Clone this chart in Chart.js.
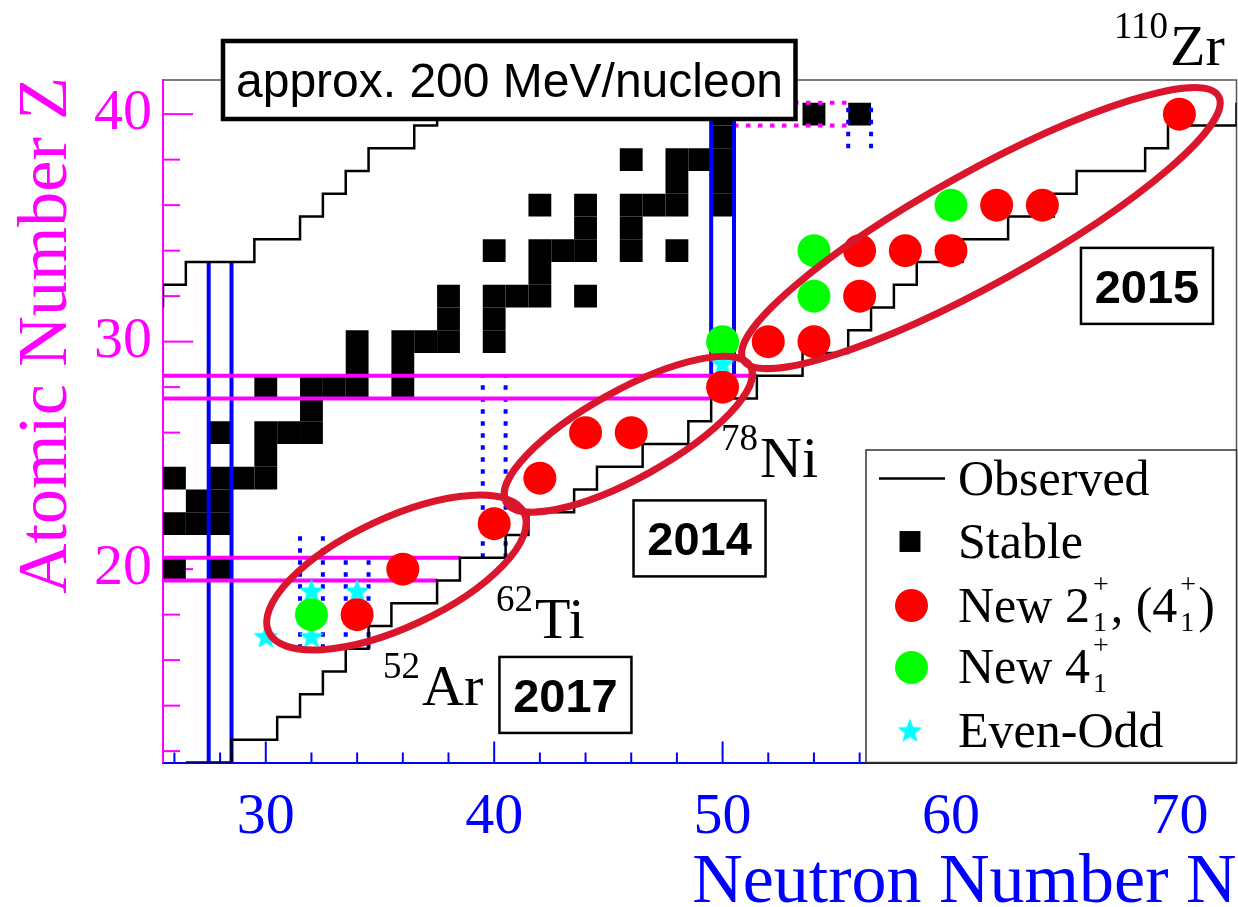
<!DOCTYPE html>
<html>
<head>
<meta charset="utf-8">
<script src="https://cdn.jsdelivr.net/npm/chart.js@4.4.1/dist/chart.umd.min.js"></script>
<style>
  html, body { margin: 0; padding: 0; background: #fff; }
  #chart { display: block; }
</style>
</head>
<body>
<canvas id="chart" width="1238" height="907"></canvas>
<script>
// ---- values (N = neutrons, Z = protons) ----
const stableN = [26, 28,
  26, 27, 28,
  27, 28,
  26, 28, 29, 30,
  30,
  28, 30, 31, 32,
  32,
  30, 32, 33, 34, 36,
  34, 36,
  34, 36, 37, 38, 40,
  38, 40,
  38, 40, 41, 42, 44,
  42,
  40, 42, 43, 44, 46, 48,
  44, 46,
  42, 44, 46, 47, 48, 50,
  48, 50,
  46, 48, 49, 50,
  50,
  50, 54, 56];
const stableZ = [20, 20,
  22, 22, 22,
  23, 23,
  24, 24, 24, 24,
  25,
  26, 26, 26, 26,
  27,
  28, 28, 28, 28, 28,
  29, 29,
  30, 30, 30, 30, 30,
  31, 31,
  32, 32, 32, 32, 32,
  33,
  34, 34, 34, 34, 34, 34,
  35, 35,
  36, 36, 36, 36, 36, 36,
  37, 37,
  38, 38, 38, 38,
  39,
  40, 40, 40];

const new2N = [34, 36, 40, 42, 44, 46, 50, 52, 54, 56, 56, 58, 60, 62, 64, 70];
const new2Z = [18, 20, 22, 24, 26, 26, 28, 30, 30, 32, 34, 34, 34, 36, 36, 40];
const new4N = [32, 50, 54, 54, 60];
const new4Z = [18, 30, 32, 34, 36];
const evenOddN = [30, 32, 32, 34, 50];
const evenOddZ = [17, 17, 19, 19, 29];

// observed limit, neutron-deficient side (goes up, then across)
const upperN = [25.5, 26.5, 29.5, 31.5, 32.5, 33.5, 34.5, 36.5, 37.5, 39.5, 41.5];
const upperZ = [31.5, 32.5, 33.5, 34.5, 35.5, 36.5, 37.5, 38.5, 39.5, 40.5, 41.5];
// observed limit, neutron-rich side (goes across, then up)
const lowerN = [26.5, 28.5, 30.5, 31.5, 32.5, 33.5, 34.5, 35.5, 37.5, 38.5, 40.5, 41.5, 43.5, 44.5,
  46.5, 48.5, 49.5, 51.5, 53.5, 55.5, 56.5, 57.5, 58.5, 60.5, 62.5, 64.5, 65.5, 68.5, 69.5, 72.5, 74];
const lowerZ = [11.5, 12.5, 13.5, 14.5, 15.5, 16.5, 17.5, 18.5, 19.5, 20.5, 21.5, 22.5, 23.5, 24.5,
  25.5, 26.5, 27.5, 28.5, 29.5, 30.5, 31.5, 32.5, 33.5, 34.5, 35.5, 36.5, 37.5, 38.5, 39.5, 40.5, 40.5];

// shell closures (solid) and sub-shells (dotted)
const zShellZ = [19.5, 20.5, 27.5, 28.5];
const zShellFromN = [25.5, 25.5, 25.5, 25.5];
const zShellToN = [37.5, 38.5, 49.5, 51.5];
const nShellN = [27.5, 28.5, 49.5, 50.5];
const nShellFromZ = [11.5, 11.5, 27.5, 27.5];
const nShellToZ = [33.5, 33.5, 41.5, 41.5];
const nSubN = [31.5, 32.5, 33.5, 34.5, 39.5, 40.5, 55.5, 56.5];
const nSubFromZ = [16.5, 16.5, 16.5, 16.5, 20.5, 20.5, 38.5, 38.5];
const nSubToZ = [21.5, 21.5, 20.5, 20.5, 28.5, 28.5, 40.5, 40.5];
const zSubZ = [39.5, 40.5];
const zSubFromN = [50.5, 50.5];
const zSubToN = [55.5, 55.5];

const xTicks = [30, 40, 50, 60, 70];
const yTicks = [20, 30, 40];

// ---- annotations ----
const rings = [
  { n: 35.72, z: 19.85, a: 6.17, b: 2.4, deg: 25 },
  { n: 45.87, z: 25.93, a: 6.12, b: 1.93, deg: 29 },
  { n: 61.31, z: 34.99, a: 11.9, b: 2.45, deg: 29 }
];
const nuclides = [
  { mass: '110', el: 'Zr', n: 69.59, z: 42.16 },
  { mass: '78', el: 'Ni', n: 51.64, z: 24.05 },
  { mass: '62', el: 'Ti', n: 41.79, z: 16.97 },
  { mass: '52', el: 'Ar', n: 36.84, z: 14.03 }
];
const years = [
  { text: '2015', n: 68.58, z: 32.45 },
  { text: '2014', n: 48.99, z: 21.35 },
  { text: '2017', n: 43.12, z: 14.47 }
];

const MAG = '#ff00ff';
const BLU = '#0000ff';
const RING = 'rgb(218,22,45)';
const SERIF = '"Liberation Serif", "Times New Roman", serif';
const SANS = '"Liberation Sans", Arial, sans-serif';

function xy(ns, zs) {
  return ns.map((n, i) => ({ x: n, y: zs[i] }));
}

function starImage(r, color) {
  const c = document.createElement('canvas');
  const s = Math.ceil(r * 2 + 2);
  c.width = s; c.height = s;
  const g = c.getContext('2d');
  g.translate(s / 2, s / 2);
  g.beginPath();
  for (let i = 0; i < 10; i++) {
    const rr = i % 2 ? r * 0.42 : r;
    const ang = -Math.PI / 2 + i * Math.PI / 5;
    g.lineTo(rr * Math.cos(ang), rr * Math.sin(ang));
  }
  g.closePath();
  g.fillStyle = color;
  g.fill();
  return c;
}
const star = starImage(13, '#00ffff');

function cellRadius(c) {
  const s = c.chart.scales.x;
  return Math.abs(s.getPixelForValue(1) - s.getPixelForValue(0)) * Math.SQRT1_2;
}

function segment(label, x1, y1, x2, y2, color, dash) {
  return {
    type: 'line', label, data: [{ x: x1, y: y1 }, { x: x2, y: y2 }],
    borderColor: color, borderWidth: 4, borderDash: dash || [],
    borderCapStyle: 'butt', pointRadius: 0, fill: false, order: 3
  };
}

const datasets = [
  { label: 'New 2+', data: xy(new2N, new2Z), pointStyle: 'circle', pointRadius: 16.5,
    backgroundColor: '#ff0000', borderWidth: 0, order: 0 },
  { label: 'New 4+', data: xy(new4N, new4Z), pointStyle: 'circle', pointRadius: 16.5,
    backgroundColor: '#00ff00', borderWidth: 0, order: 0 },
  { label: 'Even-Odd', data: xy(evenOddN, evenOddZ), pointStyle: star, pointRadius: 13,
    backgroundColor: '#00ffff', borderWidth: 0, order: 1 },
  { type: 'line', label: 'Observed', data: xy(upperN, upperZ), stepped: 'after',
    borderColor: '#000', borderWidth: 2.5, pointRadius: 0, fill: false, order: 2 },
  { type: 'line', label: 'Observed (n-rich)', data: xy(lowerN, lowerZ), stepped: 'before',
    borderColor: '#000', borderWidth: 2.5, pointRadius: 0, fill: false, order: 2 }
];
zShellZ.forEach((z, i) => datasets.push(segment('Z shell', zShellFromN[i], z, zShellToN[i], z, MAG)));
nShellN.forEach((n, i) => datasets.push(segment('N shell', n, nShellFromZ[i], n, nShellToZ[i], BLU)));
nSubN.forEach((n, i) => datasets.push(segment('N sub-shell', n, nSubFromZ[i], n, nSubToZ[i], BLU, [4.5, 7.5])));
zSubZ.forEach((z, i) => datasets.push(segment('Z sub-shell', zSubFromN[i], z, zSubToN[i], z, MAG, [4.5, 7.5])));
datasets.push({ label: 'Stable', data: xy(stableN, stableZ), pointStyle: 'rect', pointRadius: cellRadius,
  backgroundColor: '#000', borderWidth: 0, order: 4 });

function richText(ctx, x, y, parts, size) {
  let cx = x;
  for (const p of parts) {
    if (typeof p === 'string') {
      ctx.font = `${size}px ${SERIF}`;
      ctx.fillText(p, cx, y);
      cx += ctx.measureText(p).width;
    } else {
      const s = Math.round(size * 0.56);
      ctx.font = `${s}px ${SERIF}`;
      let w = 0;
      ctx.fillText(p.sup, cx + 3, y - size * 0.58);
      w = Math.max(w, ctx.measureText(p.sup).width);
      ctx.fillText(p.sub, cx + 3, y + size * 0.17);
      w = Math.max(w, ctx.measureText(p.sub).width);
      cx += w + 5;
    }
  }
}

const decor = {
  id: 'decor',
  beforeDatasetsDraw(chart) {
    const { ctx, chartArea: a, scales: { x, y } } = chart;
    ctx.save();
    ctx.strokeStyle = '#555';
    ctx.lineWidth = 1.5;
    ctx.beginPath();
    ctx.moveTo(a.left, a.top);
    ctx.lineTo(a.right, a.top);
    ctx.lineTo(a.right, a.bottom);
    ctx.stroke();
    // ROOT-style ticks pointing inwards
    ctx.lineWidth = 2;
    ctx.strokeStyle = BLU;
    for (let n = 26; n <= 72; n += 2) {
      const px = x.getPixelForValue(n);
      const len = xTicks.includes(n) ? 21 : 10;
      ctx.beginPath(); ctx.moveTo(px, a.bottom); ctx.lineTo(px, a.bottom - len); ctx.stroke();
    }
    ctx.strokeStyle = MAG;
    for (let z = 12; z <= 40; z += 2) {
      const py = y.getPixelForValue(z);
      const len = yTicks.includes(z) ? 30 : 17;
      ctx.beginPath(); ctx.moveTo(a.left, py); ctx.lineTo(a.left + len, py); ctx.stroke();
    }
    ctx.restore();
  },
  afterDatasetsDraw(chart) {
    const { ctx, scales: { x, y } } = chart;
    const ux = Math.abs(x.getPixelForValue(1) - x.getPixelForValue(0));
    const uy = Math.abs(y.getPixelForValue(1) - y.getPixelForValue(0));
    ctx.save();
    ctx.strokeStyle = RING;
    ctx.lineWidth = 7;
    rings.forEach(r => {
      ctx.beginPath();
      ctx.ellipse(x.getPixelForValue(r.n), y.getPixelForValue(r.z), r.a * ux, r.b * uy,
        -r.deg * Math.PI / 180, 0, Math.PI * 2);
      ctx.stroke();
    });
    ctx.restore();
  },
  afterDraw(chart) {
    const { ctx, chartArea: a, scales: { x, y } } = chart;
    ctx.save();
    ctx.textBaseline = 'alphabetic';

    // nuclide labels
    ctx.fillStyle = '#000';
    nuclides.forEach(d => {
      const px = x.getPixelForValue(d.n), py = y.getPixelForValue(d.z);
      ctx.font = `58px ${SERIF}`;
      ctx.textAlign = 'left';
      ctx.fillText(d.el, px, py);
      ctx.font = `37px ${SERIF}`;
      ctx.textAlign = 'right';
      ctx.fillText(d.mass, px - 2, py - 27);
    });

    // year boxes
    years.forEach(d => {
      const cx = x.getPixelForValue(d.n), cy = y.getPixelForValue(d.z);
      ctx.fillStyle = '#fff';
      ctx.fillRect(cx - 66, cy - 38, 132, 76);
      ctx.strokeStyle = '#000';
      ctx.lineWidth = 2.5;
      ctx.strokeRect(cx - 66, cy - 38, 132, 76);
      ctx.fillStyle = '#000';
      ctx.font = `bold 47px ${SANS}`;
      ctx.textAlign = 'center';
      ctx.fillText(d.text, cx, cy + 17);
    });

    // beam energy box
    ctx.fillStyle = '#fff';
    ctx.fillRect(223, 41, 572.5, 78);
    ctx.strokeStyle = '#000';
    ctx.lineWidth = 4.5;
    ctx.strokeRect(223, 41, 572.5, 78);
    ctx.fillStyle = '#000';
    ctx.font = `48px ${SANS}`;
    ctx.textAlign = 'center';
    ctx.fillText('approx. 200 MeV/nucleon', 509.5, 97);

    // legend
    const L = 866, T = 450, R = a.right, B = a.bottom;
    ctx.fillStyle = '#fff';
    ctx.fillRect(L, T, R - L, B - T);
    ctx.strokeStyle = '#333';
    ctx.lineWidth = 1.5;
    ctx.strokeRect(L, T, R - L, B - T);
    const tx = 958;
    ctx.strokeStyle = '#000';
    ctx.lineWidth = 2.5;
    ctx.beginPath(); ctx.moveTo(879, 478.5); ctx.lineTo(945, 478.5); ctx.stroke();
    ctx.fillStyle = '#000';
    Chart.helpers.drawPoint(ctx, { pointStyle: 'rect', radius: 14.8, borderWidth: 0 }, 910, 541.5);
    ctx.fillStyle = '#ff0000';
    Chart.helpers.drawPoint(ctx, { pointStyle: 'circle', radius: 16.5, borderWidth: 0 }, 911.5, 605.5);
    ctx.fillStyle = '#00ff00';
    Chart.helpers.drawPoint(ctx, { pointStyle: 'circle', radius: 16.5, borderWidth: 0 }, 911.5, 667.5);
    Chart.helpers.drawPoint(ctx, { pointStyle: star, radius: 13, borderWidth: 0 }, 910, 731.5);
    ctx.fillStyle = '#000';
    ctx.textAlign = 'left';
    richText(ctx, tx, 495, ['Observed'], 50);
    richText(ctx, tx, 558, ['Stable'], 50);
    richText(ctx, tx, 622, ['New 2', { sup: '+', sub: '1' }, ', (4', { sup: '+', sub: '1' }, ')'], 50);
    richText(ctx, tx, 683, ['New 4', { sup: '+', sub: '1' }], 50);
    richText(ctx, tx, 747, ['Even-Odd'], 50);

    // axis titles
    ctx.font = `70px ${SERIF}`;
    ctx.fillStyle = BLU;
    ctx.textAlign = 'right';
    ctx.fillText('Neutron Number N', a.right, 902);
    ctx.fillStyle = MAG;
    ctx.translate(66, 77);
    ctx.rotate(-Math.PI / 2);
    ctx.fillText('Atomic Number Z', 0, 0);
    ctx.restore();
  }
};

// keep the frame where ROOT put it: no extra room for tick labels
function pinX(s) { s.height = 144.5; s.paddingLeft = 0; s.paddingRight = 0; }
function pinY(s) { s.width = 163; s.paddingTop = 0; s.paddingBottom = 0; }

const config = {
  type: 'scatter',
  data: { datasets },
  options: {
    responsive: false,
    animation: false,
    devicePixelRatio: 1,
    layout: { autoPadding: false, padding: { top: 80, right: 1.5, left: 0, bottom: 0 } },
    plugins: { legend: { display: false }, tooltip: { enabled: false } },
    scales: {
      x: {
        type: 'linear', min: 25.5, max: 72.5,
        afterBuildTicks: s => { s.ticks = xTicks.map(v => ({ value: v })); },
        afterFit: pinX,
        grid: { display: false, drawTicks: false },
        border: { display: true, color: BLU, width: 2 },
        ticks: { autoSkip: false, maxRotation: 0, padding: 20, color: BLU,
          font: { family: 'Liberation Serif', size: 58 } }
      },
      y: {
        type: 'linear', min: 11.5, max: 41.5,
        afterBuildTicks: s => { s.ticks = yTicks.map(v => ({ value: v })); },
        afterFit: pinY,
        grid: { display: false, drawTicks: false },
        border: { display: true, color: MAG, width: 2 },
        ticks: { autoSkip: false, padding: 11, color: MAG,
          font: { family: 'Liberation Serif', size: 58 } }
      }
    }
  },
  plugins: [decor]
};

const myChart = new Chart(document.getElementById('chart'), config);
</script>
</body>
</html>
